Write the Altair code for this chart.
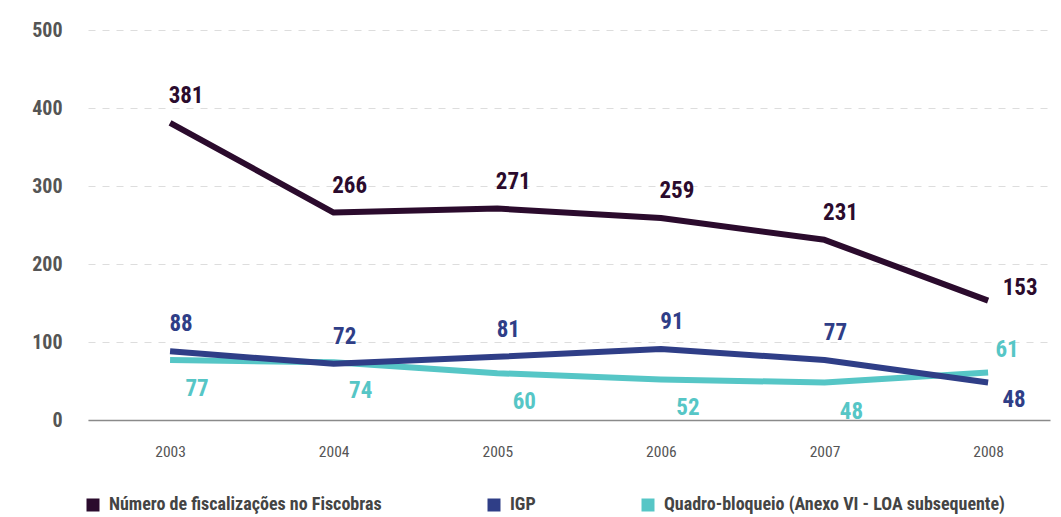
import altair as alt
import pandas as pd

years = ["2003", "2004", "2005", "2006", "2007", "2008"]
fiscobras = [381, 266, 271, 259, 231, 153]
igp = [88, 72, 81, 91, 77, 48]
quadro = [77, 74, 60, 52, 48, 61]

s_fis = "Número de fiscalizações no Fiscobras"
s_igp = "IGP"
s_quad = "Quadro-bloqueio (Anexo VI - LOA subsequente)"
series_order = [s_fis, s_igp, s_quad]
colors = ["#2b0b2d", "#2f3e87", "#56c6c6"]

FONT = "'Roboto Condensed', 'Liberation Sans Narrow', Roboto, sans-serif"

rows = []
for name, vals in [(s_quad, quadro), (s_igp, igp), (s_fis, fiscobras)]:
    for y, v in zip(years, vals):
        rows.append({"ano": y, "valor": v, "serie": name})
df = pd.DataFrame(rows)

x_enc = alt.X("ano:N", scale=alt.Scale(type="point", padding=0.44, align=0.57),
              axis=alt.Axis(title=None, labelAngle=0, labelFontSize=15.5, labelColor="#555555",
                            labelFont=FONT, labelPadding=24, ticks=False, domainColor="#8a8a8a",
                            domainWidth=1.5, grid=False))
y_enc = alt.Y("valor:Q", scale=alt.Scale(domain=[0, 500], nice=False),
              axis=alt.Axis(title=None, values=[0, 100, 200, 300, 400, 500], labelFontSize=20,
                            labelFontWeight="bold", labelColor="#555555", labelFont=FONT,
                            labelPadding=26, ticks=False, domain=False, grid=True,
                            gridColor="#dddddd", gridDash=[7, 7], gridWidth=1))

color_enc = alt.Color("serie:N", scale=alt.Scale(domain=series_order, range=colors),
                      legend=alt.Legend(title=None, orient="none", legendX=-4, legendY=466,
                                        direction="horizontal", columns=3, columnPadding=95,
                                        symbolType="square", symbolSize=36, symbolStrokeWidth=7,
                                        labelOffset=7,
                                        labelFontSize=18, labelFontWeight="bold", labelColor="#444444",
                                        labelFont=FONT, labelLimit=500, symbolOffset=0))

lines = alt.Chart(df).mark_line(strokeWidth=6, strokeCap="butt", strokeJoin="round").encode(
    x=x_enc, y=y_enc, color=color_enc, detail="serie:N"
)

def labels(series, color, dx, dy, last):
    flt = (alt.datum.ano == "2008") if last else (alt.datum.ano != "2008")
    return alt.Chart(df).transform_filter(alt.datum.serie == series).transform_filter(flt).mark_text(
        font=FONT, fontSize=23, fontWeight="bold", color=color, dx=dx, dy=dy, baseline="middle"
    ).encode(x="ano:N", y="valor:Q", text="valor:Q")

text_layers = [
    labels(s_fis, colors[0], 16, -27, False),
    labels(s_fis, colors[0], 32, -13, True),
    labels(s_igp, colors[1], 11, -27, False),
    labels(s_igp, colors[1], 26, 17, True),
    labels(s_quad, colors[2], 27, 29, False),
    labels(s_quad, colors[2], 19, -22, True),
]

chart = alt.layer(lines, *text_layers).properties(
    width=962, height=390,
    autosize=alt.AutoSizeParams(type="none"),
    padding={"left": 80, "top": 22, "right": 3, "bottom": 95},
    background="#ffffff",
).configure_view(stroke="transparent", strokeWidth=0)

chart.save("out.html", embed_options={"renderer": "svg", "actions": False})
